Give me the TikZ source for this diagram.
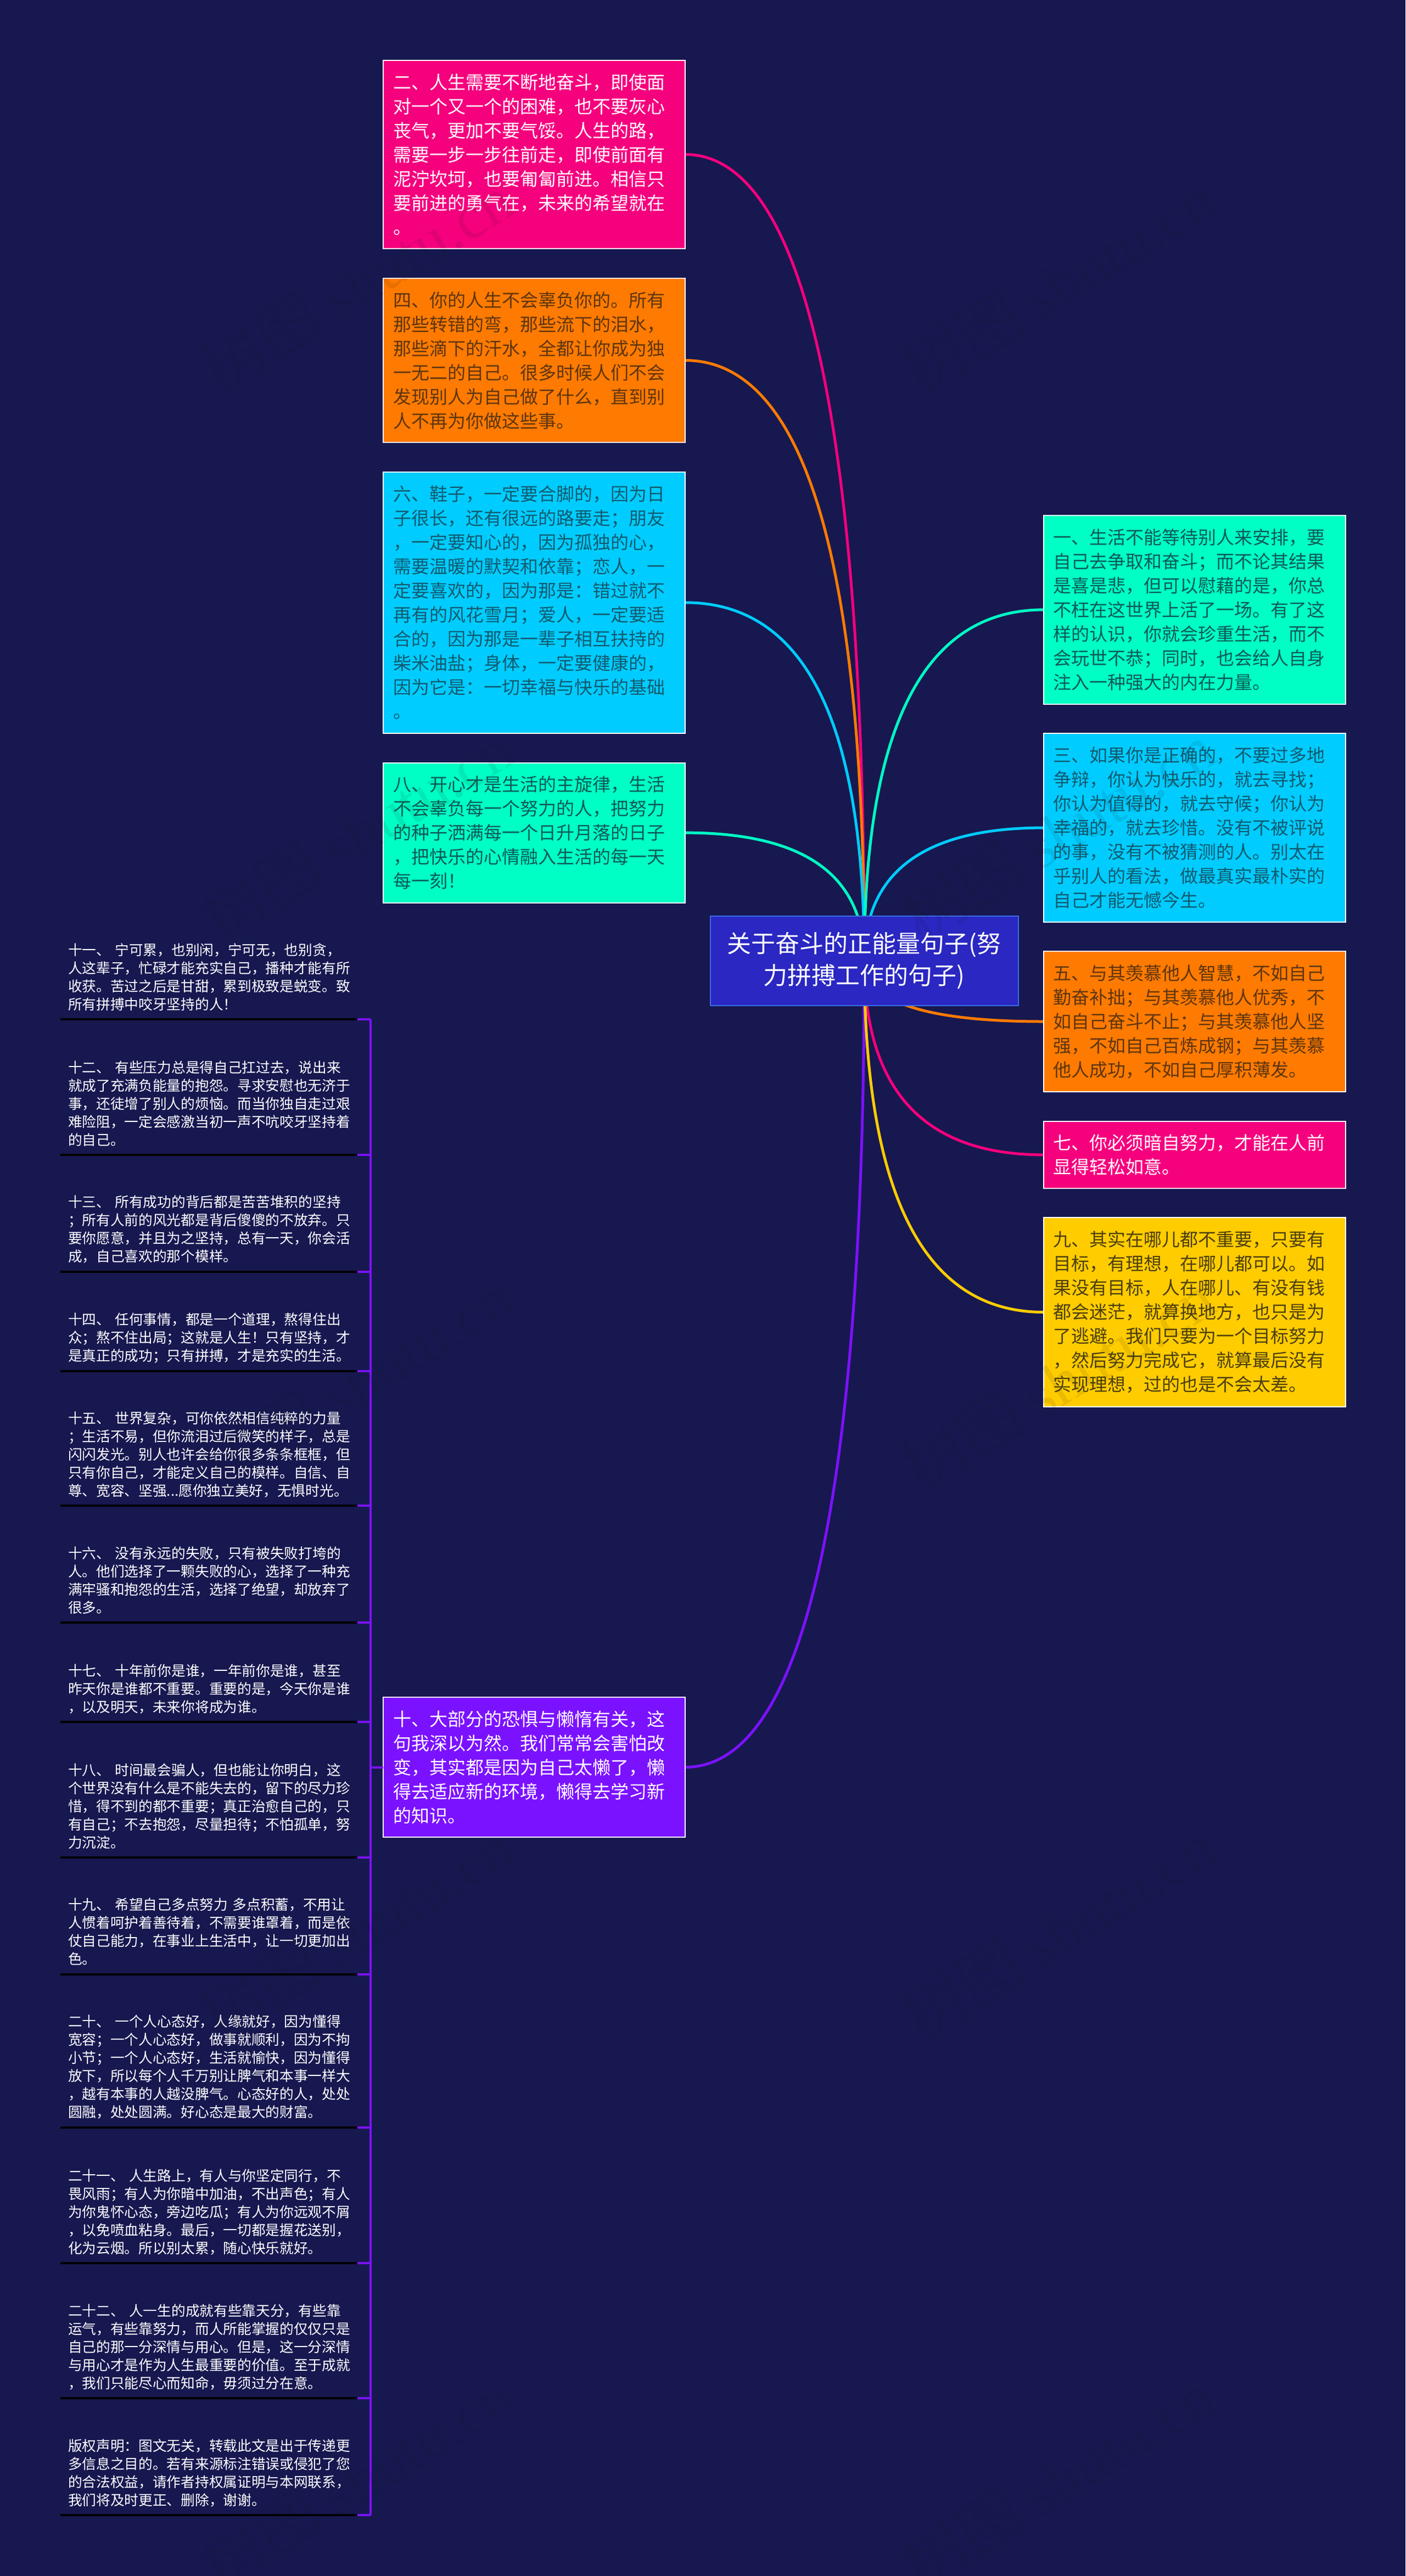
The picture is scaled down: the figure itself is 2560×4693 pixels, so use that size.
\documentclass[tikz,border=0pt]{standalone}
\usepackage{fontspec}
\setmainfont{Noto Sans CJK SC}
\newfontfamily\wmlatin{Liberation Serif}
\usetikzlibrary{calc}
\definecolor{bgc}{HTML}{171850}
\definecolor{cpink}{HTML}{F5007D}
\definecolor{corange}{HTML}{FF7A00}
\definecolor{ccyan}{HTML}{00CCFF}
\definecolor{cteal}{HTML}{00FFC4}
\definecolor{cyellow}{HTML}{FFCC00}
\definecolor{cpurple}{HTML}{7B12FF}
\definecolor{thub}{HTML}{2A27C2}
\definecolor{bhub}{HTML}{3A6EE8}
\definecolor{torange}{HTML}{5D3510}
\definecolor{tcyan}{HTML}{125A70}
\definecolor{tteal}{HTML}{0D5A55}
\definecolor{tyellow}{HTML}{4D3F0F}
\pgfdeclarelayer{bgl}
\pgfdeclarelayer{conn}
\pgfsetlayers{bgl,conn,main}
\newcommand{\gp}{\hspace{.33em}}
\newcommand{\cardbox}[7]{\node[cardstyle,fill=#5,text=#6,minimum height={(#4-#3)*0.5pt}] (#1) at (#2,#3) {#7};}
\newcommand{\listitem}[3]{%
  \node[itemstyle] (t#1) at (124,#2-8) {#3\rule[-0.3\baselineskip]{0pt}{\baselineskip}};
  \coordinate (u#1) at (110,#2);
  \coordinate (s#1) at (651,#2);
  \coordinate (b#1) at (675,#2);
  \draw[underl] (u#1) -- (s#1);
  \draw[stub] (s#1) -- (b#1);}
\newcommand{\linkL}[2]{\draw[link,#2] (#1.east) .. controls ($(#1.east)!0.6667!(#1.east -| hub.center)$) and ($(hub.center)!0.6667!(#1.east -| hub.center)$) .. (hub.center);}
\newcommand{\linkR}[2]{\draw[link,#2] (#1.west) .. controls ($(#1.west)!0.6667!(#1.west -| hub.center)$) and ($(hub.center)!0.6667!(#1.west -| hub.center)$) .. (hub.center);}
\tikzset{
  cardstyle/.style={draw=white,line width=1pt,anchor=north west,outer sep=0pt,inner xsep=9pt,inner ysep=0pt,
    minimum width=275pt,text width=257pt,align=left,font=\fontsize{16.5pt}{22pt}\selectfont},
  itemstyle/.style={anchor=south west,inner sep=0pt,outer sep=0pt,align=left,text=white,font=\fontsize{12.85pt}{16.5pt}\selectfont},
  hubstyle/.style={draw=bhub,fill=thub,line width=1pt,anchor=north west,outer sep=0pt,inner sep=0pt,minimum width=280.25pt,minimum height=81.5pt,
    text width=270pt,align=center,text=white,font=\fontsize{22pt}{29pt}\selectfont},
  link/.style={line width=2.5pt},
  underl/.style={draw=black,line width=2pt},
  stub/.style={draw=cpurple,line width=2pt},
  busline/.style={draw=cpurple,line width=1.9pt,line cap=square},
  wmark/.style={rotate=31.4,text=black!85!gray,opacity=.09,inner sep=0pt,font=\fontsize{57pt}{57pt}\selectfont}
}
\begin{document}
\begin{tikzpicture}[x=0.5pt,y=-0.5pt]
\useasboundingbox (0,0) rectangle (2560,4693);
\begin{pgfonlayer}{bgl}
\fill[bgc] (0,0) rectangle (2560,4693);
\end{pgfonlayer}

\node[hubstyle] (hub) at (1294,1669) {关于奋斗的正能量句子(努\\力拼搏工作的句子)};

\cardbox{n2}{698}{110}{452.7}{cpink}{white}{二、人生需要不断地奋斗，即使面\\对一个又一个的困难，也不要灰心\\丧气，更加不要气馁。人生的路，\\需要一步一步往前走，即使前面有\\泥泞坎坷，也要匍匐前进。相信只\\要前进的勇气在，未来的希望就在\\。}
\cardbox{n4}{698}{507}{806}{corange}{torange}{四、你的人生不会辜负你的。所有\\那些转错的弯，那些流下的泪水，\\那些滴下的汗水，全都让你成为独\\一无二的自己。很多时候人们不会\\发现别人为自己做了什么，直到别\\人不再为你做这些事。}
\cardbox{n6}{698}{860}{1335.5}{ccyan}{tcyan}{六、鞋子，一定要合脚的，因为日\\子很长，还有很远的路要走；朋友\\，一定要知心的，因为孤独的心，\\需要温暖的默契和依靠；恋人，一\\定要喜欢的，因为那是：错过就不\\再有的风花雪月；爱人，一定要适\\合的，因为那是一辈子相互扶持的\\柴米油盐；身体，一定要健康的，\\因为它是：一切幸福与快乐的基础\\。}
\cardbox{n8}{698}{1389.5}{1644.7}{cteal}{tteal}{八、开心才是生活的主旋律，生活\\不会辜负每一个努力的人，把努力\\的种子洒满每一个日升月落的日子\\，把快乐的心情融入生活的每一天\\每一刻！}
\cardbox{n10}{698}{3092}{3347}{cpurple}{white}{十、大部分的恐惧与懒惰有关，这\\句我深以为然。我们常常会害怕改\\变，其实都是因为自己太懒了，懒\\得去适应新的环境，懒得去学习新\\的知识。}

\cardbox{n1}{1900.7}{939}{1282.7}{cteal}{tteal}{一、生活不能等待别人来安排，要\\自己去争取和奋斗；而不论其结果\\是喜是悲，但可以慰藉的是，你总\\不枉在这世界上活了一场。有了这\\样的认识，你就会珍重生活，而不\\会玩世不恭；同时，也会给人自身\\注入一种强大的内在力量。}
\cardbox{n3}{1900.7}{1336.4}{1679.7}{ccyan}{tcyan}{三、如果你是正确的，不要过多地\\争辩，你认为快乐的，就去寻找；\\你认为值得的，就去守候；你认为\\幸福的，就去珍惜。没有不被评说\\的事，没有不被猜测的人。别太在\\乎别人的看法，做最真实最朴实的\\自己才能无憾今生。}
\cardbox{n5}{1900.7}{1733}{1989}{corange}{torange}{五、与其羡慕他人智慧，不如自己\\勤奋补拙；与其羡慕他人优秀，不\\如自己奋斗不止；与其羡慕他人坚\\强，不如自己百炼成钢；与其羡慕\\他人成功，不如自己厚积薄发。}
\cardbox{n7}{1900.7}{2042.7}{2165}{cpink}{white}{七、你必须暗自努力，才能在人前\\显得轻松如意。}
\cardbox{n9}{1900.7}{2218}{2563}{cyellow}{tyellow}{九、其实在哪儿都不重要，只要有\\目标，有理想，在哪儿都可以。如\\果没有目标，人在哪儿、有没有钱\\都会迷茫，就算换地方，也只是为\\了逃避。我们只要为一个目标努力\\，然后努力完成它，就算最后没有\\实现理想，过的也是不会太差。}

\begin{pgfonlayer}{conn}
\linkL{n2}{cpink}
\linkL{n4}{corange}
\linkL{n6}{ccyan}
\linkL{n8}{cteal}
\linkR{n1}{cteal}
\linkR{n3}{ccyan}
\linkR{n5}{corange}
\linkR{n7}{cpink}
\linkL{n10}{cpurple}
\linkR{n9}{cyellow}
\end{pgfonlayer}

\listitem{a}{1857}{十一、\gp 宁可累，也别闲，宁可无，也别贪，\\人这辈子，忙碌才能充实自己，播种才能有所\\收获。苦过之后是甘甜，累到极致是蜕变。致\\所有拼搏中咬牙坚持的人！}
\listitem{b}{2104}{十二、\gp 有些压力总是得自己扛过去，说出来\\就成了充满负能量的抱怨。寻求安慰也无济于\\事，还徒增了别人的烦恼。而当你独自走过艰\\难险阻，一定会感激当初一声不吭咬牙坚持着\\的自己。}
\listitem{c}{2316.5}{十三、\gp 所有成功的背后都是苦苦堆积的坚持\\；所有人前的风光都是背后傻傻的不放弃。只\\要你愿意，并且为之坚持，总有一天，你会活\\成，自己喜欢的那个模样。}
\listitem{d}{2497.6}{十四、\gp 任何事情，都是一个道理，熬得住出\\众；熬不住出局；这就是人生！只有坚持，才\\是真正的成功；只有拼搏，才是充实的生活。}
\listitem{e}{2743}{十五、\gp 世界复杂，可你依然相信纯粹的力量\\；生活不易，但你流泪过后微笑的样子，总是\\闪闪发光。别人也许会给你很多条条框框，但\\只有你自己，才能定义自己的模样。自信、自\\尊、宽容、坚强...愿你独立美好，无惧时光。}
\listitem{f}{2956}{十六、\gp 没有永远的失败，只有被失败打垮的\\人。他们选择了一颗失败的心，选择了一种充\\满牢骚和抱怨的生活，选择了绝望，却放弃了\\很多。}
\listitem{g}{3137}{十七、\gp 十年前你是谁，一年前你是谁，甚至\\昨天你是谁都不重要。重要的是，今天你是谁\\，以及明天，未来你将成为谁。}
\listitem{h}{3384}{十八、\gp 时间最会骗人，但也能让你明白，这\\个世界没有什么是不能失去的，留下的尽力珍\\惜，得不到的都不重要；真正治愈自己的，只\\有自己；不去抱怨，尽量担待；不怕孤单，努\\力沉淀。}
\listitem{i}{3596.7}{十九、\gp 希望自己多点努力\gp 多点积蓄，不用让\\人惯着呵护着善待着，不需要谁罩着，而是依\\仗自己能力，在事业上生活中，让一切更加出\\色。}
\listitem{j}{3875.7}{二十、\gp 一个人心态好，人缘就好，因为懂得\\宽容；一个人心态好，做事就顺利，因为不拘\\小节；一个人心态好，生活就愉快，因为懂得\\放下，所以每个人千万别让脾气和本事一样大\\，越有本事的人越没脾气。心态好的人，处处\\圆融，处处圆满。好心态是最大的财富。}
\listitem{k}{4123}{二十一、\gp 人生路上，有人与你坚定同行，不\\畏风雨；有人为你暗中加油，不出声色；有人\\为你鬼怀心态，旁边吃瓜；有人为你远观不屑\\，以免喷血粘身。最后，一切都是握花送别，\\化为云烟。所以别太累，随心快乐就好。}
\listitem{l}{4369}{二十二、\gp 人一生的成就有些靠天分，有些靠\\运气，有些靠努力，而人所能掌握的仅仅只是\\自己的那一分深情与用心。但是，这一分深情\\与用心才是作为人生最重要的价值。至于成就\\，我们只能尽心而知命，毋须过分在意。}
\listitem{m}{4582}{版权声明：图文无关，转载此文是出于传递更\\多信息之目的。若有来源标注错误或侵犯了您\\的合法权益，请作者持权属证明与本网联系，\\我们将及时更正、删除，谢谢。}

\draw[busline] (ba) -- (bm);
\draw[stub] (n10.west) -- (n10.west -| ba);

\foreach \wx in {649,1927} \foreach \wy in {516,1516,2517,3517,4517}
  \node[wmark] (wm-\wx-\wy) at (\wx,\wy) {树图 {\wmlatin shutu.cn}};
\end{tikzpicture}
\end{document}
